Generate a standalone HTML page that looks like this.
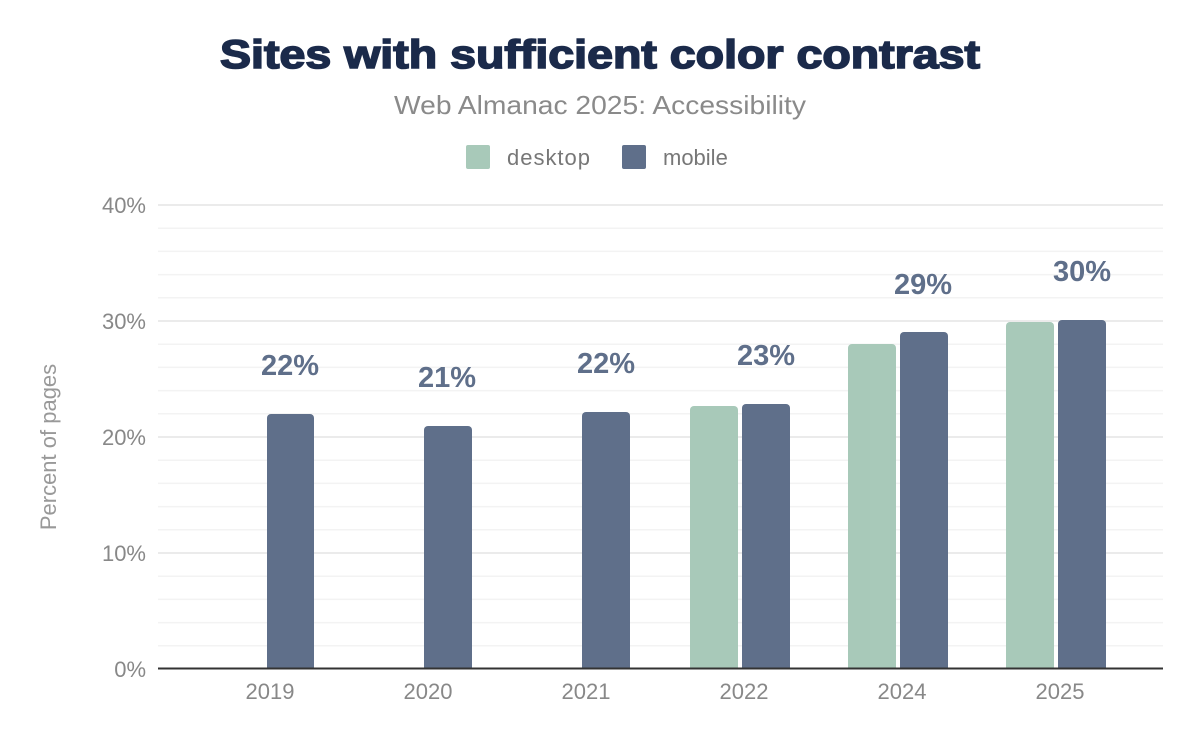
<!DOCTYPE html>
<html><head><meta charset="utf-8"><style>
body{margin:0;background:#fff;}
svg{display:block;font-family:"Liberation Sans",Arial,sans-serif;}
</style></head><body>
<svg width="1200" height="742" viewBox="0 0 1200 742">
<text x="600" y="68" text-anchor="middle" font-size="40" font-weight="900" fill="#1b2a4a" stroke="#1b2a4a" stroke-width="1.6" textLength="760" lengthAdjust="spacingAndGlyphs">Sites with sufficient color contrast</text>
<text x="600" y="114" text-anchor="middle" font-size="26" fill="#8a8a8a" textLength="412" lengthAdjust="spacingAndGlyphs">Web Almanac 2025: Accessibility</text>
<rect x="466" y="145" width="24" height="24" rx="2" fill="#a8c9b9"/>
<text x="507" y="165" font-size="22" fill="#777" textLength="83">desktop</text>
<rect x="622" y="145" width="24" height="24" rx="2" fill="#5f6f8a"/>
<text x="663" y="165" font-size="22" fill="#777">mobile</text>
<g stroke="#f3f3f3" stroke-width="1.5">
<line x1="158" x2="1163" y1="228.2" y2="228.2"/><line x1="158" x2="1163" y1="251.4" y2="251.4"/><line x1="158" x2="1163" y1="274.6" y2="274.6"/><line x1="158" x2="1163" y1="297.8" y2="297.8"/>
<line x1="158" x2="1163" y1="344.2" y2="344.2"/><line x1="158" x2="1163" y1="367.4" y2="367.4"/><line x1="158" x2="1163" y1="390.6" y2="390.6"/><line x1="158" x2="1163" y1="413.8" y2="413.8"/>
<line x1="158" x2="1163" y1="460.2" y2="460.2"/><line x1="158" x2="1163" y1="483.4" y2="483.4"/><line x1="158" x2="1163" y1="506.6" y2="506.6"/><line x1="158" x2="1163" y1="529.8" y2="529.8"/>
<line x1="158" x2="1163" y1="576.2" y2="576.2"/><line x1="158" x2="1163" y1="599.4" y2="599.4"/><line x1="158" x2="1163" y1="622.6" y2="622.6"/><line x1="158" x2="1163" y1="645.8" y2="645.8"/>
</g>
<g stroke="#ebebeb" stroke-width="2">
<line x1="158" x2="1163" y1="205" y2="205"/><line x1="158" x2="1163" y1="321" y2="321"/><line x1="158" x2="1163" y1="437" y2="437"/><line x1="158" x2="1163" y1="553" y2="553"/>
</g>
<g font-size="22" fill="#888" text-anchor="end">
<text x="146" y="213">40%</text><text x="146" y="329">30%</text><text x="146" y="445">20%</text><text x="146" y="561">10%</text><text x="146" y="677">0%</text>
</g>
<text transform="translate(56 447) rotate(-90)" text-anchor="middle" font-size="22" fill="#999">Percent of pages</text>
<g fill="#5f6f8a">
<rect x="267" y="414" width="47" height="258" rx="4"/>
<rect x="424" y="426" width="48" height="246" rx="4"/>
<rect x="582" y="412" width="48" height="260" rx="4"/>
<rect x="742" y="404" width="48" height="268" rx="4"/>
<rect x="900" y="332" width="48" height="340" rx="4"/>
<rect x="1058" y="320" width="48" height="352" rx="4"/>
</g>
<g fill="#a8c9b9">
<rect x="690" y="406" width="48" height="266" rx="4"/>
<rect x="848" y="344" width="48" height="328" rx="4"/>
<rect x="1006" y="322" width="48" height="350" rx="4"/>
</g>
<rect x="158" y="668" width="1005" height="20" fill="#fff"/>
<line x1="158" x2="1163" y1="668.5" y2="668.5" stroke="#333" stroke-width="2"/>
<g font-size="29" font-weight="bold" fill="#5f6f8a" text-anchor="middle">
<text x="290" y="375">22%</text><text x="447" y="387">21%</text><text x="606" y="373">22%</text><text x="766" y="365">23%</text><text x="923" y="294">29%</text><text x="1082" y="281">30%</text>
</g>
<g font-size="22" fill="#888" text-anchor="middle">
<text x="270" y="699">2019</text><text x="428" y="699">2020</text><text x="586" y="699">2021</text><text x="744" y="699">2022</text><text x="902" y="699">2024</text><text x="1060" y="699">2025</text>
</g>
</svg>
</body></html>
